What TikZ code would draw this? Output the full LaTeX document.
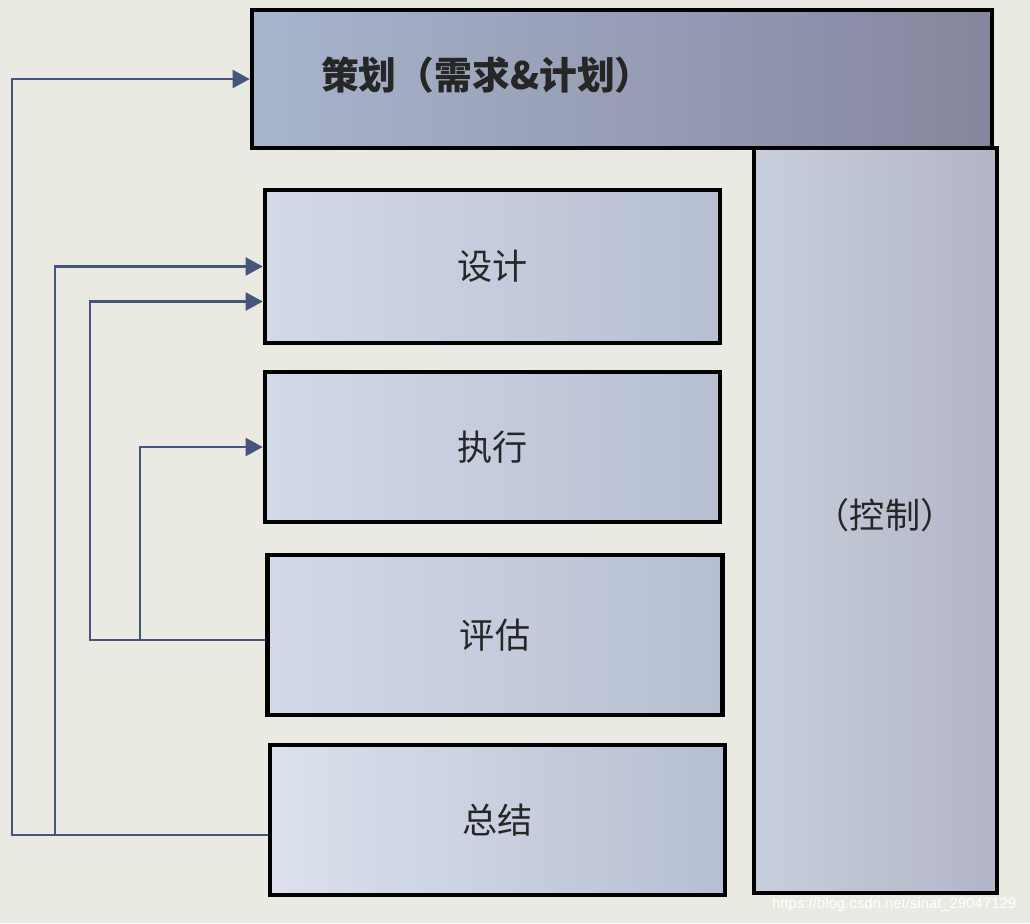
\documentclass[tikz,border=0pt]{standalone}
\usepackage{fontspec}
\newfontfamily\cjk{Noto Sans CJK SC}
\setsansfont{Liberation Sans}
\usetikzlibrary{arrows.meta,calc}
\definecolor{bgc}{HTML}{EAEAE2}
\definecolor{conc}{HTML}{46557A}
\tikzset{
  box/.style={draw=black, line width=2.6pt, rectangle, inner sep=0pt},
  midbox/.style={box, left color=boxl, right color=boxr, minimum width=9.1cm},
  conn/.style={draw=conc, line width=1.2pt},
  arr/.style={conn, -{Triangle[length=0.34cm,width=0.36cm]}},
  lbl/.style={font=\cjk\fontsize{20}{24}\selectfont, text=black!85},
}
\definecolor{boxl}{HTML}{D2DAE8}
\definecolor{boxr}{HTML}{B6BED2}
\definecolor{topl}{HTML}{A8B5CC}
\definecolor{topr}{HTML}{85869E}
\definecolor{ctll}{HTML}{C8CFDC}
\definecolor{ctlr}{HTML}{B2B5C6}
\begin{document}
\begin{tikzpicture}
\fill[bgc] (0,0) rectangle (20.6,-18.46);
\useasboundingbox (0,0) rectangle (20.6,-18.46);
% control box
\node[box, left color=ctll, right color=ctlr, minimum width=4.86cm, minimum height=14.9cm] (ctl) at (17.51,-10.41) {};
\node[lbl, font=\cjk\fontsize{20}{24}\selectfont] (ctlt) at (17.7,-10.3) {（控制）};
% top box
\node[box, left color=topl, right color=topr, minimum width=14.8cm, minimum height=2.76cm] (ch) at (12.44,-1.58) {};
\node[lbl, font=\cjk\bfseries\fontsize{21.5}{25}\selectfont, anchor=west] (cht) at (6.3,-1.5) {策划（需求\&计划）};
% middle boxes
\node[midbox, minimum height=3.06cm] (sj) at (9.85,-5.33) {};
\node[lbl] at (sj) {设计};
\node[midbox, minimum height=3.0cm] (zx) at (9.85,-8.94) {};
\node[lbl] at (zx) {执行};
\node[midbox, minimum height=3.2cm] (pg) at (9.9,-12.7) {};
\node[lbl] at (pg) {评估};
\node[midbox, minimum height=3.0cm, left color=boxl!80!white, right color=boxr] (zj) at (9.95,-16.4) {};
\node[lbl] at (zj) {总结};
% lanes
\coordinate (l1) at (0.24,0);
\coordinate (l2) at (1.1,0);
\coordinate (l3) at (1.8,0);
\coordinate (l4) at (2.8,0);
\coordinate (zjout) at ([yshift=-0.3cm]zj.west);
\coordinate (pgout) at ([yshift=-0.1cm]pg.west);
\coordinate (sjin) at ([yshift=-0.7cm]sj.west);
% connectors
\draw[arr] (zjout) -| (l1 |- ch.west) -- (ch.west);
\draw[arr] (l2 |- zjout) |- (sj.west);
\draw[arr] (pgout) -| (l3 |- sjin) -- (sjin);
\draw[arr] (l4 |- pgout) |- (zx.west);
% watermark
\node[font=\sffamily\fontsize{8.5}{10}\selectfont, text=white, anchor=east] (wm) at (20.45,-18.1) {https://blog.csdn.net/sinat\_29047129};
\end{tikzpicture}
\end{document}
